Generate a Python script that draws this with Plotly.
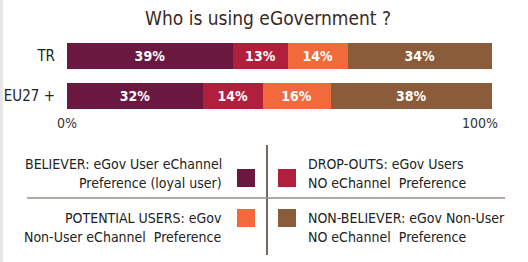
import plotly.graph_objects as go

categories = ["TR", "EU27 +"]
segments = ["BELIEVER", "DROP-OUTS", "POTENTIAL USERS", "NON-BELIEVER"]
values = {
    "BELIEVER": [39, 32],
    "DROP-OUTS": [13, 14],
    "POTENTIAL USERS": [14, 16],
    "NON-BELIEVER": [34, 38],
}
colors = {
    "BELIEVER": "#6a1840",
    "DROP-OUTS": "#b01f3c",
    "POTENTIAL USERS": "#f26a3c",
    "NON-BELIEVER": "#8a5c3a",
}
legend_lines = {
    "BELIEVER": ["BELIEVER: eGov User eChannel", "Preference (loyal user)"],
    "DROP-OUTS": ["DROP-OUTS: eGov Users", "NO eChannel  Preference"],
    "POTENTIAL USERS": ["POTENTIAL USERS: eGov", "Non-User eChannel  Preference"],
    "NON-BELIEVER": ["NON-BELIEVER: eGov Non-User", "NO eChannel  Preference"],
}
tick_vals = [0, 100]
tick_labels = ["0%", "100%\u00a0\u00a0\u00a0\u00a0\u00a0\u00a0"]

FONT = "DejaVu Sans Condensed"
W, H = 528, 262
L, R, T, B = 67, 492, 36, 116

def px(x):
    return (x - L) / (R - L)

def py(y):
    return (B - y) / (B - T)

fig = go.Figure()
for s in segments:
    fig.add_trace(go.Bar(
        y=categories, x=values[s], orientation="h", name=s,
        marker=dict(color=colors[s], line=dict(width=0)),
        text=[f"{v}%" for v in values[s]], textposition="inside",
        insidetextanchor="middle",
        textfont=dict(family=FONT, size=14, color="white", weight="bold"),
        hoverinfo="skip",
    ))

shapes = [
    dict(type="rect", xref="paper", yref="paper", x0=px(0), x1=px(3), y0=py(0), y1=py(H),
         fillcolor="#e6e6e6", line=dict(width=0), layer="below"),
    dict(type="line", xref="paper", yref="paper", x0=px(267), x1=px(267), y0=py(145), y1=py(255),
         line=dict(color="#4a3528", width=1.5)),
    dict(type="line", xref="paper", yref="paper", x0=px(27), x1=px(505), y0=py(198), y1=py(198),
         line=dict(color="#9a8e84", width=1.5)),
]
swatch_pos = {
    "BELIEVER": (237, 169),
    "DROP-OUTS": (278, 169),
    "POTENTIAL USERS": (237, 209),
    "NON-BELIEVER": (278, 209),
}
for s, (x0, y0) in swatch_pos.items():
    shapes.append(dict(type="rect", xref="paper", yref="paper",
                       x0=px(x0), x1=px(x0 + 18), y0=py(y0), y1=py(y0 + 18),
                       fillcolor=colors[s], line=dict(width=0)))

annotations = []
text_pos = {
    "BELIEVER": (224, (164, 183), "right"),
    "DROP-OUTS": (306, (164, 183), "left"),
    "POTENTIAL USERS": (224, (218, 237), "right"),
    "NON-BELIEVER": (306, (218, 237), "left"),
}
for s, (x, ys, al) in text_pos.items():
    for line, y in zip(legend_lines[s], ys):
        annotations.append(dict(
            xref="paper", yref="paper", x=px(x), y=py(y), text=line,
            showarrow=False, xanchor=al, yanchor="middle", align=al,
            font=dict(family=FONT, size=14, color="#222222"),
        ))

fig.update_layout(
    width=W, height=H,
    margin=dict(l=L, r=W - R, t=T, b=H - B),
    barmode="stack", bargap=0.35,
    showlegend=False,
    paper_bgcolor="white", plot_bgcolor="white",
    title=dict(text="Who is using eGovernment ?", xref="paper", x=px(268), xanchor="center",
               yref="container", y=1 - 18 / H, yanchor="middle",
               font=dict(family=FONT, size=19, color="#3a2a22")),
    xaxis=dict(range=[0, 100], tickvals=tick_vals, ticktext=tick_labels, showgrid=False,
               zeroline=False, showline=False, fixedrange=True, automargin=False,
               ticklabelstandoff=-3,
               tickfont=dict(family=FONT, size=14, color="#333333")),
    yaxis=dict(autorange="reversed", showgrid=False, zeroline=False, showline=False,
               ticklabelstandoff=11, automargin=False, fixedrange=True,
               tickfont=dict(family=FONT, size=15, color="#222222")),
    shapes=shapes, annotations=annotations,
    uniformtext=dict(minsize=10, mode="show"),
)

fig.write_html("out.html", config={"displayModeBar": False},
               post_script="document.body.style.margin='0px';")
